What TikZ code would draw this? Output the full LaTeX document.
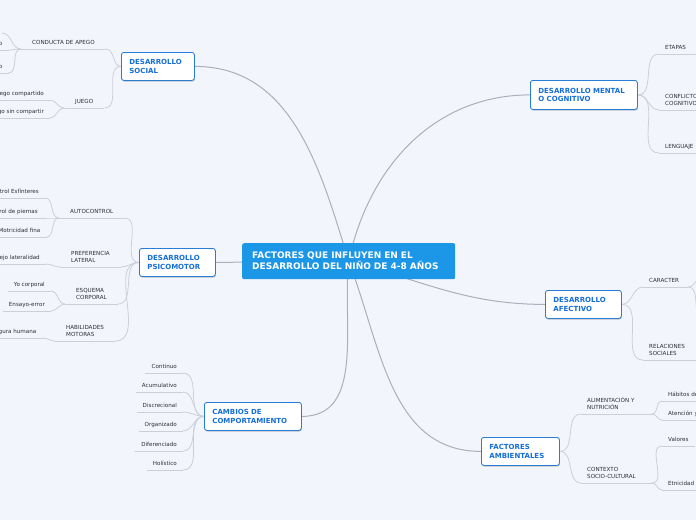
\documentclass[tikz,border=0pt]{standalone}
\usepackage{fontspec}
\setmainfont{DejaVu Sans}
\usetikzlibrary{shadows}

\definecolor{fondo}{RGB}{243,245,252}
\definecolor{azulraiz}{RGB}{28,150,230}
\definecolor{bordetema}{RGB}{40,125,215}
\definecolor{textotema}{RGB}{20,110,215}
\definecolor{textohoja}{RGB}{45,45,55}
\definecolor{lineaprincipal}{RGB}{172,174,188}
\definecolor{lineasec}{RGB}{204,206,218}

\newcommand\fuentehoja{\fontsize{5.6}{7}\selectfont}
\newcommand\fuentetema{\fontsize{7}{8.4}\selectfont\bfseries}
\newcommand\fuenteraiz{\fontsize{9}{11}\selectfont\bfseries}

\pgfdeclarelayer{capafondo}
\pgfdeclarelayer{lineas}
\pgfsetlayers{capafondo,lineas,main}

\tikzset{
  raiz/.style={fill=azulraiz, text=white, font=\fuenteraiz, rounded corners=2pt,
    anchor=north west, align=left, inner xsep=10pt, text width=193pt, minimum height=36pt},
  tema/.style={draw=bordetema, line width=0.8pt, fill=white, text=textotema, font=\fuentetema,
    rounded corners=2.5pt, anchor=north west, align=left, inner xsep=8pt, minimum height=28pt,
    drop shadow={shadow xshift=0.5pt, shadow yshift=-1.2pt, fill=black, opacity=0.22}},
  hoja/.style={font=\fuentehoja, text=textohoja, align=left, inner xsep=6pt, inner ysep=3pt, text depth=1pt},
  hojaancha/.style={hoja, inner xsep=11pt},
  rama/.style={draw=lineaprincipal, line width=1pt},
  enlace/.style={draw=lineasec, line width=0.8pt},
}

\begin{document}
\begin{tikzpicture}[x=1pt, y=-1pt]
\useasboundingbox (0,0) rectangle (696,520);
\begin{pgfonlayer}{capafondo}
\fill[fondo] (0,0) rectangle (696,520);
\end{pgfonlayer}
\clip (0,0) rectangle (696,520);

% Nodo central
\node[raiz] (raiz) at (242,243) {FACTORES QUE INFLUYEN EN EL\\DESARROLLO DEL NIÑO DE 4-8 AÑOS};

% Temas principales
\node[tema, text width=57pt] (social) at (121,52) {DESARROLLO\\SOCIAL};
\node[tema, text width=60pt] (psico) at (139,248) {DESARROLLO\\PSICOMOTOR};
\node[tema, text width=81pt] (cambios) at (204,402) {CAMBIOS DE\\COMPORTAMIENTO};
\node[tema, text width=91pt, minimum height=29pt] (mental) at (530,80) {DESARROLLO MENTAL\\O COGNITIVO};
\node[tema, text width=60pt] (afectivo) at (545,290) {DESARROLLO\\AFECTIVO};
\node[tema, text width=62pt] (ambientales) at (481,437) {FACTORES\\AMBIENTALES};

% Desarrollo social
\node[hojaancha, anchor=south west] (apego) at (21,49) {CONDUCTA DE APEGO};
\node[hojaancha, anchor=south west] (juego) at (64,108) {JUEGO};
\node[hoja, anchor=south east] (apegoB) at (8.5,50) {o};
\node[hoja, anchor=south east] (apegoC) at (8.5,73) {o};
\coordinate (apegoA) at (2,33);
\node[hoja, anchor=south east] (juegoA) at (50,100) {ego compartido};
\node[hoja, anchor=south east] (juegoB) at (50,118) {go sin compartir};

% Desarrollo psicomotor
\node[hojaancha, anchor=south west] (auto) at (59,218) {AUTOCONTROL};
\node[hojaancha, anchor=south west] (pref) at (60,267) {PREFERENCIA\\LATERAL};
\node[hojaancha, anchor=south west] (esq) at (65,304) {ESQUEMA\\CORPORAL};
\node[hojaancha, anchor=south west] (hab) at (55,341) {HABILIDADES\\MOTORAS};
\node[hoja, anchor=south east] (autoA) at (45,198) {trol Esfínteres};
\node[hoja, anchor=south east] (autoB) at (44,218) {rol de piernas};
\node[hoja, anchor=south east] (autoC) at (46.5,237) {Motricidad fina};
\node[hoja, anchor=south east] (prefA) at (46,264) {ejo lateralidad};
\node[hoja, anchor=south east] (esqA) at (51,291) {Yo corporal};
\node[hoja, anchor=south east] (esqB) at (51,311) {Ensayo-error};
\node[hoja, anchor=south east] (habA) at (42.5,338) {gura humana};

% Cambios de comportamiento
\node[hoja, anchor=south east] (continuo) at (183,373) {Continuo};
\node[hoja, anchor=south east] (acumulativo) at (183,392) {Acumulativo};
\node[hoja, anchor=south east] (discrecional) at (183,412) {Discrecional};
\node[hoja, anchor=south east] (organizado) at (183,431) {Organizado};
\node[hoja, anchor=south east] (diferenciado) at (183,451) {Diferenciado};
\node[hoja, anchor=south east] (holistico) at (183,470) {Holístico};

% Desarrollo mental
\node[hoja, anchor=south west] (etapas) at (659,54) {ETAPAS};
\node[hoja, anchor=south west] (conflicto) at (659,110) {CONFLICTO\\COGNITIVO};
\node[hoja, anchor=south west] (lenguaje) at (659,153) {LENGUAJE};

% Desarrollo afectivo
\node[hoja, anchor=south west] (caracter) at (643,287) {CARACTER};
\node[hoja, anchor=south west] (relaciones) at (643,360) {RELACIONES\\SOCIALES};
\coordinate (caracterj) at (688,287);

% Factores ambientales
\node[hoja, anchor=south west] (alim) at (581,414) {ALIMENTACIÓN Y\\NUTRICIÓN};
\node[hoja, anchor=south west] (contexto) at (581,483) {CONTEXTO\\SOCIO-CULTURAL};
\coordinate (alimj) at (652,414);
\coordinate (contextoj) at (652,483);
\node[hoja, anchor=south west] (habitos) at (662,401) {Hábitos de};
\node[hoja, anchor=south west] (atencion) at (662,420) {Atención y};
\node[hoja, anchor=south west] (valores) at (662,446) {Valores};
\node[hoja, anchor=south west] (etnicidad) at (662,490) {Etnicidad};

\begin{pgfonlayer}{lineas}
% Ramas del nodo central
\draw[rama] (raiz.center) to[out=107, in=0] (social.east);
\draw[rama] (raiz.center) -- (psico.east);
\draw[rama] (raiz.center) to[out=-96, in=0] (cambios.east);
\draw[rama] (raiz.center) to[out=78, in=180] (mental.west);
\draw[rama] (raiz.center) to[out=-15, in=180] (afectivo.west);
\draw[rama] (raiz.center) to[out=-69, in=180] (ambientales.west);

% Subrayados
\foreach \h in {apego,juego,apegoB,apegoC,juegoA,juegoB,auto,pref,esq,hab,autoA,autoB,autoC,prefA,esqA,esqB,habA,
  continuo,acumulativo,discrecional,organizado,diferenciado,holistico,etapas,conflicto,lenguaje,
  caracter,relaciones,alim,contexto,habitos,atencion,valores,etnicidad}
  \draw[enlace] (\h.south west) -- (\h.south east);

% Lado izquierdo
\foreach \h in {apego,juego}
  \draw[enlace] (\h.south east) to[out=0, in=180] (social.west);
\foreach \h in {apegoA,apegoB.south east,apegoC.south east}
  \draw[enlace] (\h) to[out=0, in=180] (apego.south west);
\foreach \h in {juegoA,juegoB}
  \draw[enlace] (\h.south east) to[out=0, in=180] (juego.south west);
\foreach \h in {auto,pref,esq,hab}
  \draw[enlace] (\h.south east) to[out=0, in=180] (psico.west);
\foreach \h in {autoA,autoB,autoC}
  \draw[enlace] (\h.south east) to[out=0, in=180] (auto.south west);
\draw[enlace] (prefA.south east) to[out=0, in=180] (pref.south west);
\foreach \h in {esqA,esqB}
  \draw[enlace] (\h.south east) to[out=0, in=180] (esq.south west);
\draw[enlace] (habA.south east) to[out=0, in=180] (hab.south west);
\foreach \h in {continuo,acumulativo,discrecional,organizado,diferenciado,holistico}
  \draw[enlace] (\h.south east) to[out=0, in=180] (cambios.west);

% Lado derecho
\foreach \h in {etapas,conflicto,lenguaje}
  \draw[enlace] (mental.east) to[out=0, in=180] (\h.south west);
\draw[enlace] (etapas.south east) -- ++(20,0);
\foreach \h in {caracter,relaciones}
  \draw[enlace] (afectivo.east) to[out=0, in=180] (\h.south west);
\draw[enlace] (caracter.south east) -- (caracterj);
\draw[enlace] (caracterj) to[out=0, in=180] ++(16,-11);
\draw[enlace] (caracterj) to[out=0, in=180] ++(16,31);
\draw[enlace] (relaciones.south east) -- ++(20,0);
\foreach \h in {alim,contexto}
  \draw[enlace] (ambientales.east) to[out=0, in=180] (\h.south west);
\draw[enlace] (alim.south east) -- (alimj);
\draw[enlace] (contexto.south east) -- (contextoj);
\foreach \h in {habitos,atencion}
  \draw[enlace] (alimj) to[out=0, in=180] (\h.south west);
\foreach \h in {valores,etnicidad}
  \draw[enlace] (contextoj) to[out=0, in=180] (\h.south west);
\end{pgfonlayer}
\end{tikzpicture}
\end{document}
